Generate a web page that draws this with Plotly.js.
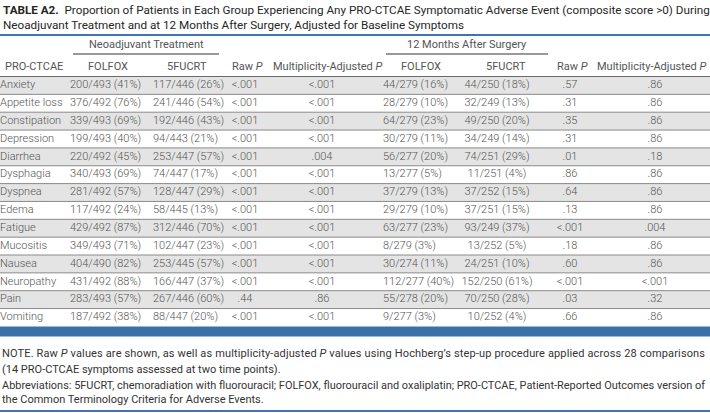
<!DOCTYPE html>
<html><head><meta charset="utf-8">
<script src="https://cdn.plot.ly/plotly-3.0.1.min.js"></script>
<style>html,body{margin:0;padding:0;background:#fff}#chart{width:710px;height:413px}</style>
</head><body><div id="chart"></div>
<script>
const symptoms = ["Anxiety","Appetite loss","Constipation","Depression","Diarrhea","Dysphagia","Dyspnea","Edema","Fatigue","Mucositis","Nausea","Neuropathy","Pain","Vomiting"];
const neoFolfox = ["200/493 (41%)","376/492 (76%)","339/493 (69%)","199/493 (40%)","220/492 (45%)","340/493 (69%)","281/492 (57%)","117/492 (24%)","429/492 (87%)","349/493 (71%)","404/490 (82%)","431/492 (88%)","283/493 (57%)","187/492 (38%)"];
const neo5fucrt = ["117/446 (26%)","241/446 (54%)","192/446 (43%)","94/443 (21%)","253/447 (57%)","74/447 (17%)","128/447 (29%)","58/445 (13%)","312/446 (70%)","102/447 (23%)","253/445 (57%)","166/447 (37%)","267/446 (60%)","88/447 (20%)"];
const neoRawP = ["<.001","<.001","<.001","<.001","<.001","<.001","<.001","<.001","<.001","<.001","<.001","<.001",".44","<.001"];
const neoAdjP = ["<.001","<.001","<.001","<.001",".004","<.001","<.001","<.001","<.001","<.001","<.001","<.001",".86","<.001"];
const m12Folfox = ["44/279 (16%)","28/279 (10%)","64/279 (23%)","30/279 (11%)","56/277 (20%)","13/277 (5%)","37/279 (13%)","29/279 (10%)","63/277 (23%)","8/279 (3%)","30/274 (11%)","112/277 (40%)","55/278 (20%)","9/277 (3%)"];
const m12_5fucrt = ["44/250 (18%)","32/249 (13%)","49/250 (20%)","34/249 (14%)","74/251 (29%)","11/251 (4%)","37/252 (15%)","37/251 (15%)","93/249 (37%)","13/252 (5%)","24/251 (10%)","152/250 (61%)","70/250 (28%)","10/252 (4%)"];
const m12RawP = [".57",".31",".35",".31",".01",".86",".64",".13","<.001",".18",".60","<.001",".03",".66"];
const m12AdjP = [".86",".86",".86",".86",".18",".86",".86",".86",".004",".86",".86","<.001",".32",".86"];
const groupHeaders = ["Neoadjuvant Treatment","12 Months After Surgery"];
const colHeaders = ["PRO-CTCAE","FOLFOX","5FUCRT","Raw <i>P</i>","Multiplicity-Adjusted <i>P</i>","FOLFOX","5FUCRT","Raw <i>P</i>","Multiplicity-Adjusted <i>P</i>"];
const titleText = "<b>TABLE A2.</b>  Proportion of Patients in Each Group Experiencing Any PRO-CTCAE Symptomatic Adverse Event (composite score >0) During<br>Neoadjuvant Treatment and at 12 Months After Surgery, Adjusted for Baseline Symptoms";
const notes = [
 "NOTE. Raw <i>P</i> values are shown, as well as multiplicity-adjusted <i>P</i> values using Hochberg’s step-up procedure applied across 28 comparisons",
 "(14 PRO-CTCAE symptoms assessed at two time points).",
 "Abbreviations: 5FUCRT, chemoradiation with fluorouracil; FOLFOX, fluorouracil and oxaliplatin; PRO-CTCAE, Patient-Reported Outcomes version of",
 "the Common Terminology Criteria for Adverse Events."
];

// ---- layout geometry ----
const W = 710, H = 413;
const rowTop = 76.5, rowH = 17.85;
const rowY = symptoms.map((s,i)=> rowTop + rowH*(i+0.5));
const txtColor = "#555555";
const F = "Roboto, 'Open Sans', sans-serif";

function col(vals, x, pos){
  return {type:"scatter", mode:"text", x: vals.map(()=>x), y: rowY, text: vals,
    textposition: pos, textfont:{family:F, size:11, color:txtColor, weight:300},
    hoverinfo:"skip", showlegend:false, cliponaxis:false};
}
const traces = [
  col(symptoms, 0, "middle right"),
  col(neoFolfox, 70, "middle right"),
  col(neo5fucrt, 153, "middle right"),
  col(neoRawP, 245, "middle center"),
  col(neoAdjP, 322, "middle center"),
  col(m12Folfox, 383, "middle right"),
  col(m12_5fucrt, 497, "middle center"),
  col(m12RawP, 570, "middle center"),
  col(m12AdjP, 655, "middle center")
];

const shapes = [];
symptoms.forEach((s,i)=>{
  if(i%2===0) shapes.push({type:"rect", xref:"x", yref:"y", x0:0, x1:W, y0:rowTop+rowH*i, y1:rowTop+rowH*(i+1), fillcolor:"#e4e4e4", line:{width:0}, layer:"below"});
});
for(let i=1;i<symptoms.length;i++){
  shapes.push({type:"line", xref:"x", yref:"y", x0:0, x1:W, y0:rowTop+rowH*i, y1:rowTop+rowH*i, line:{color:"#8a8a8a", width:1}});
}
shapes.push({type:"line", xref:"x", yref:"y", x0:0, x1:W, y0:rowTop, y1:rowTop, line:{color:"#6a6a6a", width:1}});
shapes.push({type:"line", xref:"x", yref:"y", x0:0, x1:W, y0:35, y1:35, line:{color:"#3d76ad", width:2}});
shapes.push({type:"rect", xref:"x", yref:"y", x0:0, x1:W, y0:rowTop+rowH*symptoms.length, y1:rowTop+rowH*symptoms.length+10, fillcolor:"#3a72a8", line:{width:0}});
shapes.push({type:"rect", xref:"x", yref:"y", x0:0, x1:W, y0:410, y1:412, fillcolor:"#3d76ad", line:{width:0}});
// group underlines
shapes.push({type:"line", xref:"x", yref:"y", x0:73, x1:219, y0:54, y1:54, line:{color:"#777", width:1.5}});
shapes.push({type:"line", xref:"x", yref:"y", x0:386, x1:548, y0:54, y1:54, line:{color:"#777", width:1.5}});

const annotations = [];
annotations.push({xref:"x", yref:"y", x:1, y:17, text:titleText, showarrow:false, xanchor:"left", yanchor:"middle", align:"left",
  font:{family:F, size:11.7, color:"#262626"}});
const gx = [146, 467];
groupHeaders.forEach((g,i)=>annotations.push({xref:"x", yref:"y", x:gx[i], y:44, text:g, showarrow:false, xanchor:"center", yanchor:"middle", font:{family:F, size:11, color:txtColor}}));
const hx = [3,108,187,247,328,421,506,572,652];
colHeaders.forEach((h,i)=>annotations.push({xref:"x", yref:"y", x:hx[i], y:66, text:h, showarrow:false, xanchor: i===0?"left":"center", yanchor:"middle", font:{family:F, size:11, color:txtColor}}));
const ny = [353, 369, 385, 399];
// target widths of the justified note lines
const noteFit = [[703,"spacing"], null, [703,"spacingAndGlyphs"], null];
notes.forEach((t,i)=>annotations.push({xref:"x", yref:"y", x:0, y:ny[i], text:t, showarrow:false, xanchor:"left", yanchor:"middle", align:"left",
  font:{family:F, size:11, color:"#333"}}));

const layout = {
  width: W, height: H, margin:{l:0,r:0,t:0,b:0}, paper_bgcolor:"#fff", plot_bgcolor:"#fff",
  xaxis:{range:[0,W], visible:false, fixedrange:true},
  yaxis:{range:[H,0], visible:false, fixedrange:true},
  shapes, annotations, showlegend:false
};
Plotly.newPlot("chart", traces, layout, {displayModeBar:false, staticPlot:true}).then(gd=>{
  const texts = gd.querySelectorAll(".annotation-text");
  texts.forEach(el=>{
    const content = el.textContent;
    notes.forEach((n,i)=>{
      const plain = n.replace(/<[^>]+>/g,"");
      if(noteFit[i] && content === plain){
        el.setAttribute("textLength", noteFit[i][0]);
        el.setAttribute("lengthAdjust", noteFit[i][1]);
      }
    });
  });
});
</script></body></html>
